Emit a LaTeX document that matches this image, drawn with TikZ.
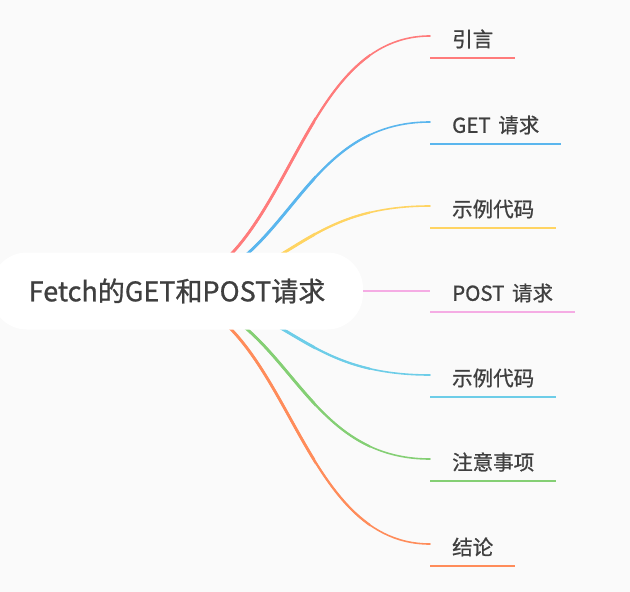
\documentclass[tikz,border=0pt]{standalone}
\usepackage{fontspec}
\setmainfont{Noto Sans CJK SC}
\newfontfamily\medfont[FakeBold=0.9]{Noto Sans CJK SC}
\definecolor{bg}{HTML}{FAFAFA}
\definecolor{txt}{HTML}{3F3F3F}
\definecolor{cA}{HTML}{FF7B7B}
\definecolor{cB}{HTML}{5AB6EE}
\definecolor{cC}{HTML}{FFD462}
\definecolor{cD}{HTML}{F5ACE4}
\definecolor{cE}{HTML}{6DCDE8}
\definecolor{cF}{HTML}{84CF74}
\definecolor{cG}{HTML}{FF8C5A}
\begin{document}
\begin{tikzpicture}[x=1pt,y=-1pt,
  rootbox/.style={fill=white, rounded corners=36pt, minimum width=372pt, minimum height=77pt, inner sep=0pt,
    text=txt, font=\medfont\fontsize{27}{30}\selectfont},
  lbl/.style={anchor=west, inner xsep=22pt, inner ysep=0pt, minimum height=38pt, text=txt,
    font=\medfont\fontsize{20.5}{24}\selectfont},
  branch/.style={line width=1.6pt, line cap=round},
  uline/.style={line width=2pt}]
\useasboundingbox (0,0) rectangle (630,592);
\fill[bg] (0,0) rectangle (630,592);

% labels (node centres 3px below the branch ends)
\node[lbl] (l1) at (430,39) {引言};
\node[lbl] (l2) at (430,125) {GET\hspace{3pt} 请求};
\node[lbl] (l3) at (430,209) {示例代码};
\node[lbl] (l4) at (430,293) {POST\hspace{3pt} 请求};
\node[lbl] (l5) at (430,378) {示例代码};
\node[lbl] (l6) at (430,462) {注意事项};
\node[lbl] (l7) at (430,547) {结论};

% branch ends
\coordinate (e1) at ([yshift=3pt]l1.west);
\coordinate (e2) at ([yshift=3pt]l2.west);
\coordinate (e3) at ([yshift=3pt]l3.west);
\coordinate (e4) at ([yshift=2pt]l4.west);
\coordinate (e5) at ([yshift=3pt]l5.west);
\coordinate (e6) at ([yshift=3pt]l6.west);
\coordinate (e7) at ([yshift=3pt]l7.west);
\coordinate (s) at (150,292);

% curved branches, thicker towards the root
\foreach \w/\xr in {1.6/640, 2.2/370, 2.8/315} {
  \begin{scope}
    \clip (0,0) rectangle (\xr,592);
    \draw[branch, line width=\w pt, cA] (s) .. controls (290,292) and (290,36) .. (e1);
    \draw[branch, line width=\w pt, cB] (s) .. controls (290,292) and (290,122) .. (e2);
    \draw[branch, line width=\w pt, cC] (s) .. controls (290,292) and (290,206) .. (e3);
    \draw[branch, line width=\w pt, cE] (s) .. controls (290,292) and (290,375) .. (e5);
    \draw[branch, line width=\w pt, cF] (s) .. controls (290,292) and (290,459) .. (e6);
    \draw[branch, line width=\w pt, cG] (s) .. controls (290,292) and (290,544) .. (e7);
  \end{scope}
}

% root
\node[rootbox] (root) at (177,291) {Fetch的GET和POST请求};
\draw[line width=1.5pt, cD] (root.east |- e4) -- (e4);

% underlines
\draw[uline, cA] (l1.south west) -- (l1.south east);
\draw[uline, cB] (l2.south west) -- (l2.south east);
\draw[uline, cC] (l3.south west) -- (l3.south east);
\draw[uline, cD] (l4.south west) -- (l4.south east);
\draw[uline, cE] (l5.south west) -- (l5.south east);
\draw[uline, cF] (l6.south west) -- (l6.south east);
\draw[uline, cG] (l7.south west) -- (l7.south east);
\end{tikzpicture}
\end{document}
